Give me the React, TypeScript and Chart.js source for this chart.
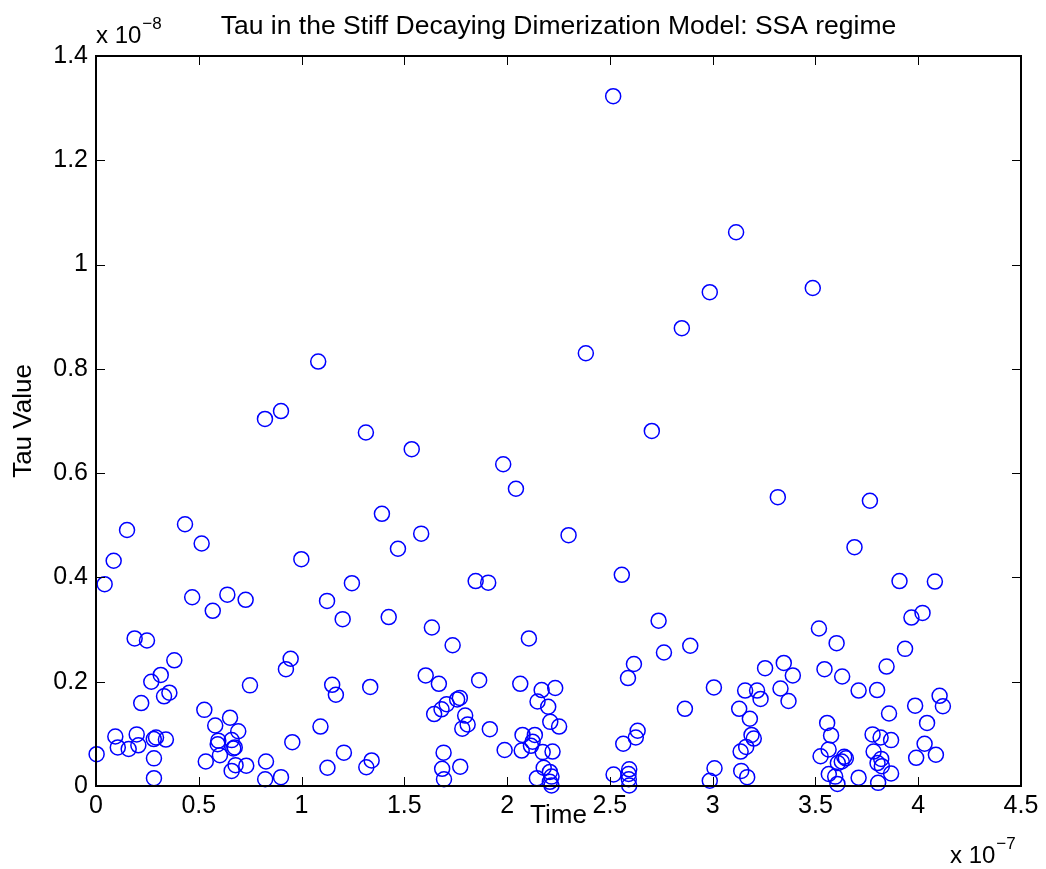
import React, { useEffect, useRef } from "react";
import { Chart, registerables } from "chart.js";

Chart.register(...registerables);

const TITLE = "Tau in the Stiff Decaying Dimerization Model: SSA regime";
const X_LABEL = "Time";
const Y_LABEL = "Tau Value";
const X_EXPONENT = "\u22127";
const Y_EXPONENT = "\u22128";
const X_TICKS = [0, 0.5, 1, 1.5, 2, 2.5, 3, 3.5, 4, 4.5];
const Y_TICKS = [0, 0.2, 0.4, 0.6, 0.8, 1, 1.2, 1.4];

// Time, in units of 1e-7
const TIME = [
  0.003, 0.042, 0.086, 0.094, 0.106, 0.151, 0.159, 0.188, 0.198, 0.206,
  0.22, 0.248, 0.269, 0.281, 0.282, 0.282, 0.292, 0.315, 0.331, 0.34,
  0.357, 0.381, 0.433, 0.468, 0.514, 0.527, 0.534, 0.568, 0.58, 0.592,
  0.595, 0.603, 0.639, 0.652, 0.66, 0.66, 0.668, 0.675, 0.679, 0.692,
  0.728, 0.731, 0.749, 0.822, 0.823, 0.827, 0.9, 0.9, 0.924, 0.947,
  0.955, 0.999, 1.081, 1.092, 1.124, 1.126, 1.149, 1.167, 1.2, 1.206,
  1.245, 1.313, 1.315, 1.334, 1.341, 1.391, 1.424, 1.469, 1.536, 1.582,
  1.604, 1.634, 1.645, 1.668, 1.681, 1.684, 1.691, 1.693, 1.706, 1.735,
  1.757, 1.77, 1.772, 1.782, 1.796, 1.808, 1.847, 1.864, 1.908, 1.916,
  1.981, 1.988, 2.043, 2.064, 2.071, 2.075, 2.106, 2.116, 2.124, 2.135,
  2.145, 2.148, 2.168, 2.173, 2.178, 2.2, 2.208, 2.208, 2.21, 2.216,
  2.216, 2.221, 2.234, 2.253, 2.299, 2.383, 2.516, 2.518, 2.558, 2.565,
  2.588, 2.591, 2.592, 2.594, 2.594, 2.617, 2.626, 2.635, 2.704, 2.737,
  2.763, 2.85, 2.865, 2.891, 2.986, 2.986, 3.006, 3.009, 3.114, 3.129,
  3.136, 3.139, 3.158, 3.163, 3.168, 3.181, 3.189, 3.2, 3.216, 3.233,
  3.255, 3.317, 3.33, 3.346, 3.369, 3.39, 3.487, 3.517, 3.525, 3.544,
  3.557, 3.564, 3.565, 3.576, 3.596, 3.603, 3.607, 3.609, 3.628, 3.63,
  3.64, 3.648, 3.69, 3.71, 3.71, 3.765, 3.778, 3.783, 3.8, 3.802,
  3.805, 3.817, 3.82, 3.823, 3.846, 3.858, 3.868, 3.868, 3.909, 3.936,
  3.967, 3.985, 3.99, 4.021, 4.031, 4.043, 4.081, 4.086, 4.104, 4.12,
];

// Tau value, in units of 1e-8
const TAU = [
  0.061, 0.387, 0.432, 0.095, 0.074, 0.491, 0.071, 0.283, 0.099, 0.078,
  0.159, 0.279, 0.2, 0.09, 0.053, 0.015, 0.093, 0.213, 0.172, 0.089,
  0.179, 0.241, 0.502, 0.362, 0.465, 0.146, 0.047, 0.336, 0.116, 0.08,
  0.087, 0.059, 0.367, 0.131, 0.088, 0.029, 0.072, 0.074, 0.04, 0.105,
  0.357, 0.039, 0.193, 0.704, 0.013, 0.047, 0.719, 0.017, 0.224, 0.244,
  0.084, 0.435, 0.814, 0.114, 0.355, 0.035, 0.194, 0.175, 0.32, 0.064,
  0.389, 0.678, 0.036, 0.19, 0.049, 0.522, 0.324, 0.455, 0.646, 0.484,
  0.212, 0.304, 0.138, 0.196, 0.147, 0.033, 0.064, 0.013, 0.157, 0.27,
  0.166, 0.169, 0.037, 0.11, 0.135, 0.118, 0.393, 0.203, 0.39, 0.109,
  0.617, 0.069, 0.57, 0.196, 0.068, 0.098, 0.283, 0.077, 0.085, 0.098,
  0.015, 0.162, 0.184, 0.065, 0.035, 0.152, 0.027, 0.008, 0.123, 0.018,
  0.001, 0.066, 0.188, 0.114, 0.481, 0.83, 1.323, 0.022, 0.405, 0.081,
  0.207, 0.023, 0.013, 0.032, 0.001, 0.234, 0.093, 0.106, 0.681, 0.317,
  0.256, 0.878, 0.148, 0.269, 0.947, 0.01, 0.189, 0.034, 1.062, 0.148,
  0.066, 0.029, 0.183, 0.075, 0.017, 0.129, 0.098, 0.091, 0.183, 0.167,
  0.226, 0.554, 0.187, 0.236, 0.163, 0.212, 0.955, 0.302, 0.057, 0.224,
  0.121, 0.07, 0.023, 0.097, 0.018, 0.274, 0.004, 0.044, 0.047, 0.21,
  0.056, 0.053, 0.458, 0.183, 0.016, 0.547, 0.099, 0.066, 0.184, 0.044,
  0.006, 0.093, 0.052, 0.038, 0.229, 0.139, 0.088, 0.024, 0.393, 0.263,
  0.323, 0.154, 0.054, 0.332, 0.081, 0.121, 0.392, 0.06, 0.173, 0.153,
];

const FAMILY = '"Liberation Sans", Arial, Helvetica, sans-serif';
const fmt = (v: number) => String(Number(Number(v).toFixed(2)));

const framePlugin = {
  id: "matlabFrame",
  afterDraw(chart: any) {
    const { ctx, chartArea, scales } = chart;
    const { left, right, top, bottom } = chartArea;
    const xs = scales.x;
    const ys = scales.y;
    ctx.save();
    ctx.strokeStyle = "#000";
    ctx.lineWidth = 1;
    const tl = 9;
    ctx.beginPath();
    for (const t of xs.ticks) {
      const px = Math.round(xs.getPixelForValue(t.value)) + 0.5;
      ctx.moveTo(px, bottom);
      ctx.lineTo(px, bottom - tl);
      ctx.moveTo(px, top);
      ctx.lineTo(px, top + tl);
    }
    for (const t of ys.ticks) {
      const py = Math.round(ys.getPixelForValue(t.value)) + 0.5;
      ctx.moveTo(left, py);
      ctx.lineTo(left + tl, py);
      ctx.moveTo(right, py);
      ctx.lineTo(right - tl, py);
    }
    ctx.stroke();
    ctx.lineWidth = 2;
    ctx.strokeRect(left, top, right - left, bottom - top);

    ctx.fillStyle = "#000";
    ctx.font = `26.5px ${FAMILY}`;
    ctx.textAlign = "center";
    ctx.textBaseline = "alphabetic";
    ctx.fillText(TITLE, (left + right) / 2, 34);

    const drawExp = (x: number, baseY: number, exp: string) => {
      ctx.textAlign = "left";
      ctx.font = `24px ${FAMILY}`;
      const base = "x 10";
      ctx.fillText(base, x, baseY);
      const w = ctx.measureText(base).width;
      ctx.font = `17px ${FAMILY}`;
      ctx.fillText(exp, x + w + 1, baseY - 14);
    };
    drawExp(left, 43, Y_EXPONENT);
    drawExp(950, 863, X_EXPONENT);
    ctx.restore();
  },
};

export default function App() {
  const ref = useRef<HTMLCanvasElement | null>(null);
  useEffect(() => {
    if (!ref.current) return;
    const points = TIME.map((t, i) => ({ x: t, y: TAU[i] }));
    const chart = new Chart(ref.current, {
      type: "scatter",
      data: {
        datasets: [
          {
            data: points,
            pointStyle: "circle",
            pointRadius: 7.5,
            pointBorderWidth: 1.5,
            borderColor: "#0000FF",
            backgroundColor: "rgba(0,0,0,0)",
            pointBackgroundColor: "rgba(0,0,0,0)",
            pointBorderColor: "#0000FF",
            clip: false,
          } as any,
        ],
      },
      options: {
        responsive: false,
        animation: false,
        devicePixelRatio: 1,
        events: [],
        layout: { padding: { top: 56, right: 25, bottom: 0, left: 0 } },
        plugins: {
          legend: { display: false },
          tooltip: { enabled: false },
          title: { display: false },
        },
        scales: {
          x: {
            type: "linear",
            min: X_TICKS[0],
            max: X_TICKS[X_TICKS.length - 1],
            afterBuildTicks: (s: any) => {
              s.ticks = X_TICKS.map((v) => ({ value: v }));
            },
            afterFit: (s: any) => {
              s.height = 83;
            },
            grid: { display: false, drawTicks: false },
            border: { display: false },
            ticks: {
              padding: 5,
              color: "#000",
              maxRotation: 0,
              autoSkip: false,
              font: { size: 25, family: FAMILY },
              callback: (v: any) => fmt(v),
            },
            title: {
              display: true,
              text: X_LABEL,
              color: "#000",
              font: { size: 26, family: FAMILY },
              padding: { top: 0, bottom: 38 },
            },
          },
          y: {
            type: "linear",
            min: Y_TICKS[0],
            max: Y_TICKS[Y_TICKS.length - 1],
            afterBuildTicks: (s: any) => {
              s.ticks = Y_TICKS.map((v) => ({ value: v }));
            },
            afterFit: (s: any) => {
              s.width = 96;
            },
            grid: { display: false, drawTicks: false },
            border: { display: false },
            ticks: {
              padding: 8,
              color: "#000",
              autoSkip: false,
              font: { size: 25, family: FAMILY },
              callback: (v: any) => fmt(v),
            },
            title: {
              display: true,
              text: Y_LABEL,
              color: "#000",
              font: { size: 26, family: FAMILY },
              padding: { top: 8, bottom: 0 },
            },
          },
        },
      },
      plugins: [framePlugin],
    });
    return () => chart.destroy();
  }, []);
  return (
    <div style={{ position: "fixed", left: 0, top: 0, width: 1046, height: 869, background: "#fff" }}>
      <canvas ref={ref} width={1046} height={869} style={{ display: "block", width: 1046, height: 869 }} />
    </div>
  );
}
